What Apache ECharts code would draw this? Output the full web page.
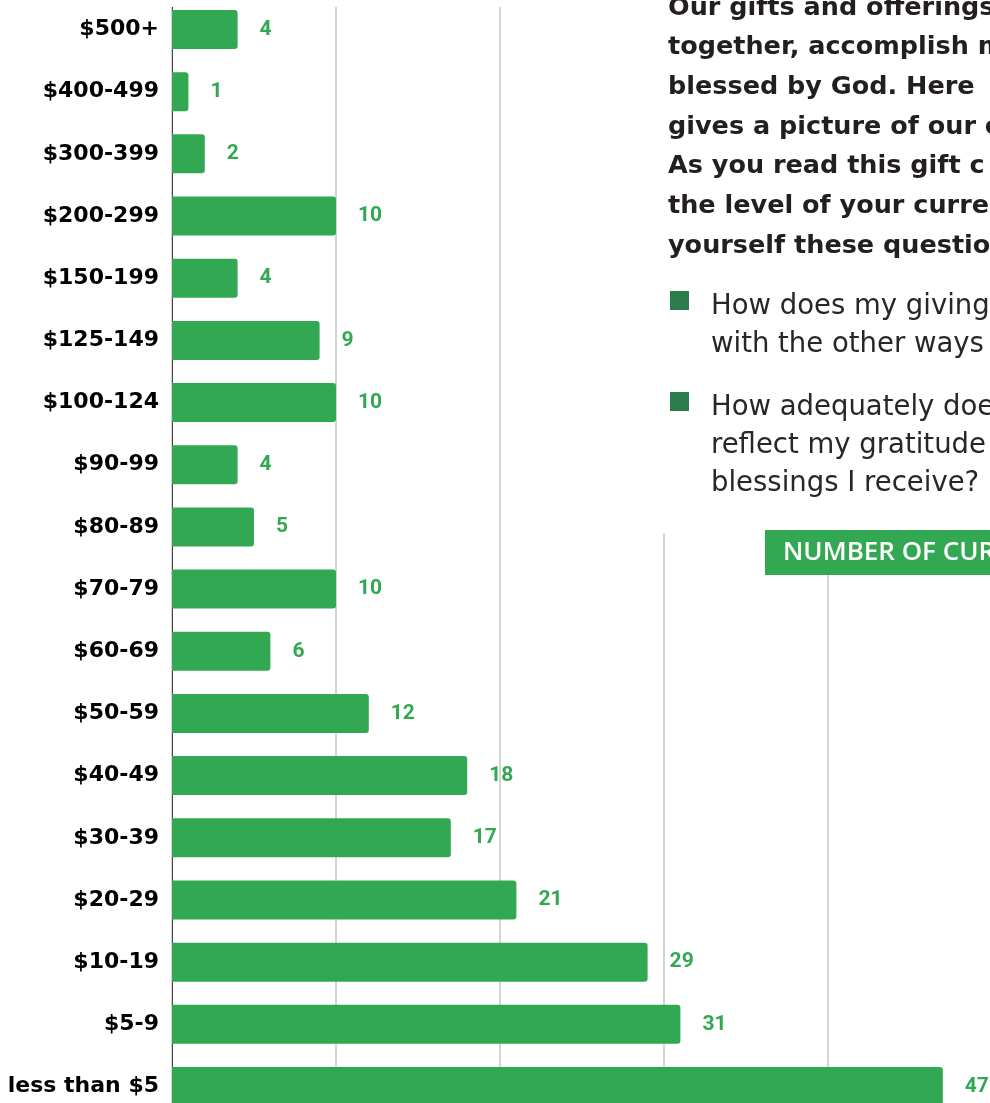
<!DOCTYPE html>
<html>
<head>
<meta charset="utf-8">
<title>gift chart</title>
<script src="https://cdn.jsdelivr.net/npm/echarts@6/dist/echarts.min.js"></script>
<style>
  html, body { margin: 0; padding: 0; background: #fff; }
  #main { width: 990px; height: 1103px; }
</style>
</head>
<body>
<div id="main"></div>
<script>
var categories = ['$500+', '$400-499', '$300-399', '$200-299', '$150-199', '$125-149', '$100-124',
  '$90-99', '$80-89', '$70-79', '$60-69', '$50-59', '$40-49', '$30-39', '$20-29', '$10-19', '$5-9', 'less than $5']
var givers = [4, 1, 2, 10, 4, 9, 10, 4, 5, 10, 6, 12, 18, 17, 21, 29, 31, 47]

var introLines = ['Our gifts and offerings', 'together, accomplish m', 'blessed by God. Here',
  'gives a picture of our c', 'As you read this gift c', 'the level of your curre', 'yourself these questio']
var question1 = ['How does my giving', 'with the other ways']
var question2 = ['How adequately doe', 'reflect my gratitude', 'blessings I receive?']
var boxTitle = 'NUMBER OF CUR'

var green = '#33a852'
var darkGreen = '#2d7d4c'

var myChart = echarts.init(document.getElementById('main'))

// text block top right, sits on a white patch over the grid lines
var graphics = []
graphics.push({ type: 'rect', z: 100, shape: { x: 600, y: 0, width: 400, height: 533 }, style: { fill: '#fff' } })
graphics.push({ type: 'rect', z: 100, shape: { x: 150, y: 0, width: 460, height: 7 }, style: { fill: '#fff' } })

introLines.forEach(function (t, i) {
  graphics.push({
    type: 'text', z: 101, x: 668, y: 21 + i * 39.7,
    style: { text: t, font: 'bold 25.5px "DejaVu Sans"', fill: '#231f20', verticalAlign: 'bottom' }
  })
})

function addQuestion(lines, top) {
  graphics.push({ type: 'rect', z: 101, shape: { x: 670, y: top - 23, width: 19, height: 19 }, style: { fill: darkGreen } })
  lines.forEach(function (t, i) {
    graphics.push({
      type: 'text', z: 101, x: 711, y: top + 6.5 + i * 38.2,
      style: { text: t, font: '27.5px "DejaVu Sans"', fill: '#2a2627', verticalAlign: 'bottom' }
    })
  })
}
addQuestion(question1, 314)
addQuestion(question2, 415)

graphics.push({ type: 'rect', z: 101, shape: { x: 765, y: 530, width: 240, height: 45 }, style: { fill: green } })
graphics.push({
  type: 'text', z: 102, x: 783, y: 553,
  style: { text: boxTitle, font: '600 26px "Open Sans"', fill: '#fff', verticalAlign: 'middle' }
})

var option = {
  animation: false,
  grid: { left: 172, right: -2, top: -1.6, bottom: -14.6, outerBoundsMode: 'none' },
  xAxis: {
    type: 'value', min: 0, max: 50, interval: 10,
    axisLabel: { show: false }, axisLine: { show: false }, axisTick: { show: false },
    splitLine: { show: true, lineStyle: { color: '#d4d4d4', width: 2 } }
  },
  yAxis: {
    type: 'category', inverse: true, data: categories,
    axisLine: { show: true, lineStyle: { color: '#444', width: 1 } },
    axisTick: { show: false },
    axisLabel: { margin: 13, color: '#000', fontFamily: 'DejaVu Sans', fontWeight: 'bold', fontSize: 22 }
  },
  series: [{
    type: 'bar', data: givers, barWidth: 39,
    itemStyle: { color: green, borderRadius: [0, 3, 3, 0] },
    label: {
      show: true, position: 'right', distance: 22,
      color: green, fontFamily: 'Roboto', fontWeight: 'bold', fontSize: 21
    }
  }],
  graphic: graphics
}

myChart.setOption(option)
</script>
</body>
</html>
